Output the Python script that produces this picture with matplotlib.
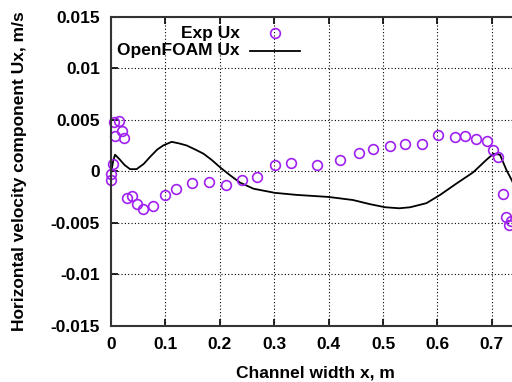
import matplotlib.pyplot as plt
from matplotlib.lines import Line2D

# Experimental data (Exp Ux)
exp_x = [0.0, 0.0, 0.003, 0.0055, 0.007, 0.015, 0.021, 0.024, 0.029, 0.039,
         0.048, 0.059, 0.078, 0.100, 0.120, 0.149, 0.180, 0.211, 0.241, 0.269,
         0.301, 0.330, 0.378, 0.421, 0.456, 0.482, 0.513, 0.541, 0.571, 0.602,
         0.632, 0.651, 0.671, 0.691, 0.702, 0.712, 0.721, 0.727, 0.732, 0.735]
exp_y = [-0.0003, -0.0009, 0.0007, 0.0048, 0.0034, 0.0049, 0.0039, 0.0032, -0.00265, -0.0024,
         -0.0032, -0.0037, -0.0034, -0.0023, -0.0017, -0.0011, -0.0010, -0.0013, -0.0009, -0.00055,
         0.00058, 0.00075, 0.00065, 0.00113, 0.0018, 0.0022, 0.00246, 0.0026, 0.00265, 0.0035,
         0.0033, 0.0034, 0.0031, 0.0029, 0.0021, 0.0014, -0.0022, -0.0044, -0.0052, -0.0048]

# OpenFOAM profile
cfd_x = [0.0, 0.004, 0.0074, 0.015, 0.025, 0.035, 0.047, 0.060, 0.072, 0.085,
         0.096, 0.1115, 0.125, 0.139, 0.155, 0.170, 0.185, 0.200, 0.219, 0.237,
         0.262, 0.301, 0.341, 0.400, 0.445, 0.476, 0.504, 0.530, 0.550, 0.580,
         0.605, 0.635, 0.666, 0.690, 0.703, 0.715, 0.727, 0.737, 0.745]
cfd_y = [-0.0002, 0.0010, 0.0016, 0.0012, 0.0006, 0.0002, 0.0002, 0.0007, 0.0014, 0.0021,
         0.0025, 0.00285, 0.0027, 0.0025, 0.0021, 0.0017, 0.0011, 0.0004, -0.0004, -0.0011,
         -0.0017, -0.0021, -0.0023, -0.0025, -0.0028, -0.0032, -0.0035, -0.0036, -0.0035, -0.0031,
         -0.0023, -0.0012, -0.0001, 0.0011, 0.0017, 0.0016, 0.0001, -0.0009, -0.0019]

x_ticks = [0, 0.1, 0.2, 0.3, 0.4, 0.5, 0.6, 0.7]
x_labels = ['0', '0.1', '0.2', '0.3', '0.4', '0.5', '0.6', '0.7']
y_ticks = [-0.015, -0.01, -0.005, 0, 0.005, 0.01, 0.015]
y_labels = ['-0.015', '-0.01', '-0.005', '0', '0.005', '0.01', '0.015']

purple = '#a020f0'
plt.rcParams['font.family'] = ['Liberation Sans', 'DejaVu Sans']
plt.rcParams['font.weight'] = 'bold'
fs = 12.5

fig = plt.figure(figsize=(5.12, 3.82), dpi=100)
ax = fig.add_axes([111 / 512, 1 - 325.7 / 382, 408 / 512, 309 / 382])

ax.grid(True, color='black', linestyle=(0, (1, 2)), linewidth=0.8)
ax.set_axisbelow(True)

ax.plot(cfd_x, cfd_y, color='black', linewidth=1.3)
ax.plot(exp_x, exp_y, linestyle='none', marker='o', markersize=7,
        markerfacecolor='none', markeredgecolor=purple, markeredgewidth=1.2,
        clip_on=False)

ax.set_xlim(0, 0.75)
ax.set_ylim(-0.015, 0.015)
ax.set_xticks(x_ticks)
ax.set_xticklabels(x_labels, fontweight='bold')
ax.set_yticks(y_ticks)
ax.set_yticklabels(y_labels, fontweight='bold')
ax.tick_params(direction='in', length=5, width=1.2, labelsize=fs, pad=8,
               top=True, right=True)
for s in ax.spines.values():
    s.set_linewidth(1.5)
    s.set_color('#333333')

ax.set_xlabel('Channel width x, m', fontsize=fs, fontweight='bold', labelpad=10)
ax.set_ylabel('Horizontal velocity component Ux, m/s', fontsize=fs,
              fontweight='bold', labelpad=17)

# legend drawn by hand so the text is right aligned like gnuplot
ax.text(0.316, 0.947, 'Exp Ux', transform=ax.transAxes, ha='right', va='center',
        fontsize=fs, fontweight='bold')
ax.text(0.316, 0.889, 'OpenFOAM Ux', transform=ax.transAxes, ha='right', va='center',
        fontsize=fs, fontweight='bold')
ax.add_line(Line2D([0.402], [0.947], transform=ax.transAxes, linestyle='none', marker='o',
                   markersize=7, markerfacecolor='none', markeredgecolor=purple,
                   markeredgewidth=1.2))
ax.add_line(Line2D([0.341, 0.463], [0.889, 0.889], transform=ax.transAxes,
                   color='black', linewidth=1.3))

fig.savefig('out.png', dpi=100)
